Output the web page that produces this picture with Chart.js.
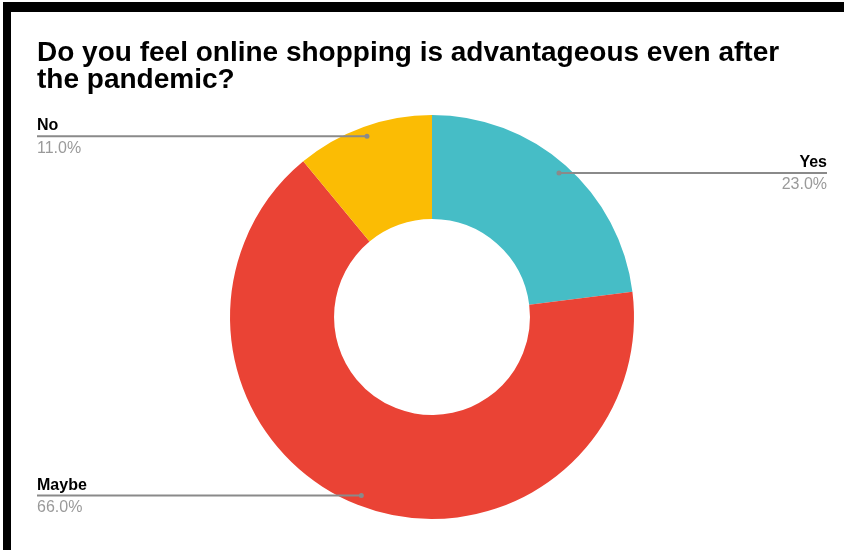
<!DOCTYPE html>
<html>
<head>
<meta charset="utf-8">
<script src="https://cdn.jsdelivr.net/npm/chart.js@4.4.1/dist/chart.umd.min.js"></script>
<style>
    html, body { margin: 0; padding: 0; background: #fff; }
    #wrap { position: relative; width: 844px; height: 550px; overflow: hidden; }
    #frame {
        position: absolute; left: 3px; top: 2px; right: 0; bottom: 0;
        border-top: 10px solid #000; border-left: 8px solid #000;
    }
    canvas { position: absolute; left: 0; top: 0; }
</style>
</head>
<body>
<div id="wrap">
    <canvas id="donut" width="844" height="550"></canvas>
    <div id="frame"></div>
</div>
<script>
// --- Data ---
const titleLines = ['Do you feel online shopping is advantageous even after', 'the pandemic?'];
const categories = ['Yes', 'Maybe', 'No'];
const values = [23, 66, 11];
const sliceColors = ['#46BDC6', '#EA4335', '#FBBC04'];

const FONT = '"Liberation Sans", Arial, sans-serif';
const total = values.reduce((a, b) => a + b, 0);

// Title + leader lines with name / percentage
const calloutPlugin = {
    id: 'callouts',
    afterDraw(chart) {
        const ctx = chart.ctx;
        ctx.save();

        // title
        ctx.fillStyle = '#000';
        ctx.font = 'bold 28px ' + FONT;
        ctx.textAlign = 'left';
        ctx.textBaseline = 'alphabetic';
        titleLines.forEach((line, i) => ctx.fillText(line, 37, 61 + i * 27));

        const meta = chart.getDatasetMeta(0);
        meta.data.forEach((arc, i) => {
            const p = arc.getProps(['x', 'y', 'startAngle', 'endAngle', 'outerRadius']);
            const mid = (p.startAngle + p.endAngle) / 2;
            const r = p.outerRadius - 10;
            const dx = p.x + Math.cos(mid) * r;
            const dy = p.y + Math.sin(mid) * r;
            const left = dx < p.x;
            const edge = left ? 37 : 827;

            ctx.strokeStyle = '#8a8a8a';
            ctx.lineWidth = 2;
            ctx.beginPath();
            ctx.moveTo(edge, dy);
            ctx.lineTo(dx, dy);
            ctx.stroke();

            ctx.fillStyle = '#8a8a8a';
            ctx.beginPath();
            ctx.arc(dx, dy, 2.5, 0, Math.PI * 2);
            ctx.fill();

            ctx.textAlign = left ? 'left' : 'right';
            ctx.fillStyle = '#000';
            ctx.font = 'bold 16px ' + FONT;
            ctx.textBaseline = 'alphabetic';
            ctx.fillText(categories[i], edge, dy - 6);

            ctx.fillStyle = '#9a9a9a';
            ctx.font = '16px ' + FONT;
            ctx.textBaseline = 'top';
            ctx.fillText((values[i] / total * 100).toFixed(1) + '%', edge, dy + 4);
        });
        ctx.restore();
    }
};

new Chart(document.getElementById('donut'), {
    type: 'doughnut',
    data: {
        labels: categories,
        datasets: [{
            data: values,
            backgroundColor: sliceColors,
            borderWidth: 0
        }]
    },
    options: {
        responsive: false,
        animation: false,
        cutout: '48.5%',
        layout: { padding: { top: 115, bottom: 31, left: 208, right: 188 } },
        plugins: {
            legend: { display: false },
            tooltip: { enabled: false },
            title: { display: false }
        }
    },
    plugins: [calloutPlugin]
});
</script>
</body>
</html>
